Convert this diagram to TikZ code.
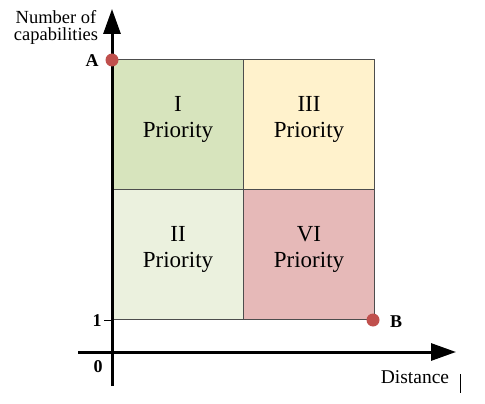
\documentclass[tikz,border=0pt]{standalone}
\usepackage{fontspec}
\setmainfont{Liberation Serif}
\usetikzlibrary{arrows.meta}
\definecolor{cA}{HTML}{D7E4BD}
\definecolor{cB}{HTML}{FFF2CC}
\definecolor{cC}{HTML}{EBF1DE}
\definecolor{cD}{HTML}{E6B9B8}
\definecolor{dotred}{HTML}{C0504D}
\definecolor{gridc}{HTML}{4D4D4D}
\tikzset{
  cell/.style={draw=gridc, line width=1pt, minimum width=131pt, minimum height=130pt, inner sep=0pt, anchor=north west},
  celltxt/.style={font=\fontsize{23}{26}\selectfont, align=center},
  axis/.style={line width=3pt, -{Triangle[length=25pt,width=17pt]}},
  dotstyle/.style={circle, fill=dotred, inner sep=0pt, minimum size=13pt},
  lab/.style={font=\fontsize{18}{20}\selectfont\bfseries},
  txt/.style={font=\fontsize{18.5}{20}\selectfont, align=center},
}
\begin{document}
\begin{tikzpicture}[x=1pt,y=-1pt]
\useasboundingbox (0,0) rectangle (485,404);
\node[cell, fill=cA] (c1) at (112,59) {};
\node[cell, fill=cB] (c3) at (243,59) {};
\node[cell, fill=cC] (c2) at (112,189) {};
\node[cell, fill=cD] (c4) at (243,189) {};
\node[celltxt] (t1) at ([yshift=5pt]c1.center) {I\\Priority};
\node[celltxt] (t3) at ([yshift=5pt]c3.center) {III\\Priority};
\node[celltxt] (t2) at ([yshift=5pt]c2.center) {II\\Priority};
\node[celltxt] (t4) at ([yshift=5pt]c4.center) {VI\\Priority};
\coordinate (ybot) at (112,386);
\coordinate (ytop) at (112,9);
\coordinate (xleft) at (78,352);
\coordinate (xright) at (456,352);
\draw[axis] (ybot) -- (ytop);
\draw[axis] (xleft) -- (xright);
\coordinate (tick) at (104,320);
\draw[line width=0.8pt] (tick) -- (c2.south west);
\node[dotstyle] (A) at (112,60) {};
\node[dotstyle] (B) at (373,320) {};
\node[lab] (la) at (92,61) {A};
\node[lab] (lb) at (396,322) {B};
\node[lab] (l1) at (97,321) {1};
\node[lab] (l0) at (98,367) {0};
\node[txt] (ylab) at (56,27) {Number of\\[-3pt]capabilities};
\node[font=\fontsize{19.5}{21}\selectfont] (xlab) at (415,377) {Distance};
\coordinate (bar1) at (460,374);
\coordinate (bar2) at (460,393);
\draw[line width=0.8pt] (bar1) -- (bar2);
\end{tikzpicture}
\end{document}
